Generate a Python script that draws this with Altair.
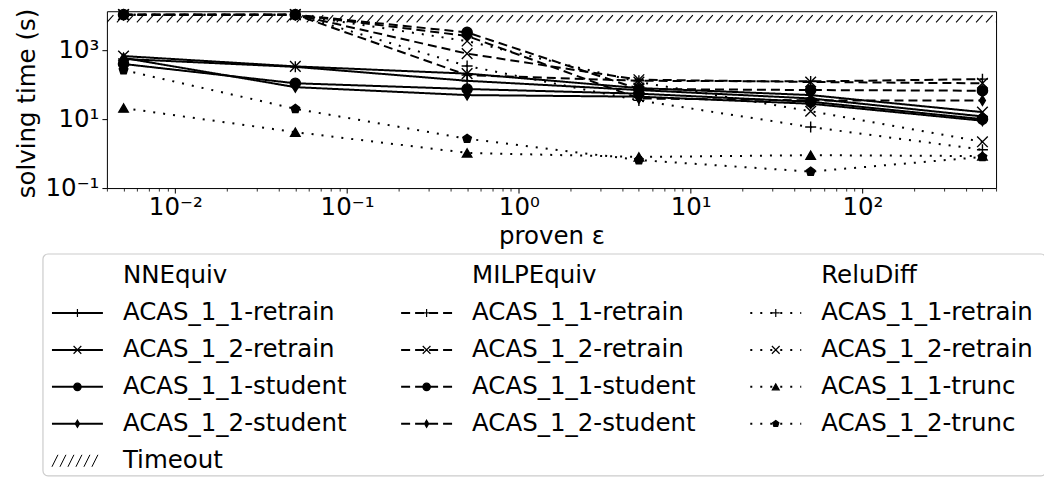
import math
import altair as alt
import numpy as np
import pandas as pd

# ---------------- data ----------------
EPS = [0.005, 0.05, 0.5, 5, 50, 500]
TIMEOUT = 10800

# NNEquiv (solid)
NN_11_RETRAIN = [560, 330, 130, 70, 40, 12]
NN_12_RETRAIN = [680, 340, 210, 80, 50, 16]
NN_11_STUDENT = [400, 110, 75, 55, 32, 10]
NN_12_STUDENT = [600, 85, 50, 45, 28, 9]
# MILPEquiv (dashed)
MILP_11_RETRAIN = [TIMEOUT, TIMEOUT, 190, 130, 125, 145]
MILP_12_RETRAIN = [TIMEOUT, TIMEOUT, 800, 140, 120, 110]
MILP_11_STUDENT = [TIMEOUT, TIMEOUT, 3300, 75, 70, 67]
MILP_12_STUDENT = [TIMEOUT, TIMEOUT, 2600, 40, 35, 35]
# ReluDiff (dotted)
RD_11_RETRAIN = [TIMEOUT, TIMEOUT, 350, 35, 5.9, 1.3]
RD_12_RETRAIN = [TIMEOUT, TIMEOUT, 1850, 120, 17, 2.2]
RD_11_TRUNC = [21, 4.2, 1.05, 0.8, 0.9, 0.85]
RD_12_TRUNC = [265, 20, 2.7, 0.65, 0.3, 0.8]

METHODS = ["NNEquiv", "MILPEquiv", "ReluDiff"]
SERIES = [
    ("NNEquiv", "ACAS_1_1-retrain", "plus", NN_11_RETRAIN),
    ("NNEquiv", "ACAS_1_2-retrain", "cross", NN_12_RETRAIN),
    ("NNEquiv", "ACAS_1_1-student", "dot", NN_11_STUDENT),
    ("NNEquiv", "ACAS_1_2-student", "diamond", NN_12_STUDENT),
    ("MILPEquiv", "ACAS_1_1-retrain", "plus", MILP_11_RETRAIN),
    ("MILPEquiv", "ACAS_1_2-retrain", "cross", MILP_12_RETRAIN),
    ("MILPEquiv", "ACAS_1_1-student", "dot", MILP_11_STUDENT),
    ("MILPEquiv", "ACAS_1_2-student", "diamond", MILP_12_STUDENT),
    ("ReluDiff", "ACAS_1_1-retrain", "plus", RD_11_RETRAIN),
    ("ReluDiff", "ACAS_1_2-retrain", "cross", RD_12_RETRAIN),
    ("ReluDiff", "ACAS_1_1-trunc", "triangle", RD_11_TRUNC),
    ("ReluDiff", "ACAS_1_2-trunc", "pentagon", RD_12_TRUNC),
]

# ---------------- styles ----------------
FONT = "DejaVu Sans"
FS = 24.5
X_MIN, X_MAX = 0.004, 600
Y_MIN, Y_MAX = 0.1, 13600
HATCH_LOW, HATCH_HIGH = 6500, 10400
MAIN_W, MAIN_H = 890, 177
LEG_W, LEG_H = 938, 224
VIEW_LEFT = 107          # expected page x of the plot's left edge (legend is laid out from it)

DASHES = [[1, 0], [9, 5], [2, 8]]
MARKERS = ["plus", "cross", "dot", "diamond", "triangle", "pentagon"]
pent = "M" + "L".join(
    f"{math.cos(math.radians(-90 + 72 * k)):.3f},{math.sin(math.radians(-90 + 72 * k)):.3f}"
    for k in range(5)) + "Z"
SHAPES = ["M-1,0L1,0M0,-1L0,1", "M-1,-1L1,1M-1,1L1,-1", "circle",
          "M0,-1L0.6,0L0,1L-0.6,0Z", "triangle-up", pent]
PLOT_SIZES = [121, 81, 16, 144, 100, 90]
LEG_SIZES = [64, 42, 8, 110, 56, 56]

rows = []
for method, name, marker, vals in SERIES:
    for e, v in zip(EPS, vals):
        rows.append(dict(method=method, series=method + " " + name, marker=marker, eps=e, time=v))
df = pd.DataFrame(rows)


def pow10_expr():
    sup = {-3: "⁻³", -2: "⁻²", -1: "⁻¹", 0: "⁰", 1: "¹", 2: "²", 3: "³", 4: "⁴"}
    e = "round(log(datum.value)/LN10)"
    expr = "''"
    for k, s in sup.items():
        expr = f"({e} == {k} ? '{s}' : {expr})"
    return "'10' + " + expr


LBL = pow10_expr()
xscale = alt.Scale(type="log", domain=[X_MIN, X_MAX], nice=False)
yscale = alt.Scale(type="log", domain=[Y_MIN, Y_MAX], nice=False)

y_axis = alt.Axis(values=[0.1, 10, 1000], labelExpr=LBL, tickSize=5, tickColor="black",
                  tickWidth=1, labelColor="black", labelFontSize=FS, labelFont=FONT,
                  labelPadding=3, title="solving time (s)", titleFontSize=FS, titleFont=FONT,
                  titleFontWeight="normal", titleColor="black", titlePadding=6,
                  titleAnchor="end", titleY=-3, domain=False, grid=False)
x_major = alt.Axis(values=[0.01, 0.1, 1, 10, 100], labelExpr=LBL, tickSize=5, tickColor="black",
                   tickWidth=1, labelColor="black", labelFontSize=FS, labelFont=FONT,
                   labelPadding=2, title="proven ε", titleFontSize=FS, titleFont=FONT,
                   titleFontWeight="normal", titleColor="black", titlePadding=6,
                   domain=False, grid=False, orient="bottom")
minor_vals = [k * 10.0 ** p for p in range(-3, 3) for k in range(2, 10)
              if X_MIN <= k * 10.0 ** p <= X_MAX]
x_minor = alt.Axis(values=minor_vals, labels=False, tickSize=3, tickColor="black", tickWidth=0.8,
                   title=None, domain=False, grid=False, orient="bottom")

# hatch for timeout band (log-space diagonal strokes)
dec_px = MAIN_W / math.log10(X_MAX / X_MIN)
step = 10 / dec_px
dx = 6.5 / dec_px
starts = np.arange(math.log10(X_MIN) - 2 * step, math.log10(X_MAX) + step, step)
hatch_df = pd.DataFrame({"x0": 10 ** starts, "x1": 10 ** (starts + dx),
                         "y0": HATCH_LOW, "y1": HATCH_HIGH})

hatch = alt.Chart(hatch_df).mark_rule(color="black", strokeWidth=1.1, clip=True).encode(
    x=alt.X("x0:Q", scale=xscale, axis=x_minor),
    x2="x1:Q",
    y=alt.Y("y0:Q", scale=yscale, axis=y_axis),
    y2="y1:Q",
)
lines = alt.Chart(df).mark_line(color="black", strokeWidth=2, clip=True).encode(
    x=alt.X("eps:Q", scale=xscale, axis=x_major),
    y=alt.Y("time:Q", scale=yscale, axis=y_axis),
    detail="series:N",
    strokeDash=alt.StrokeDash("method:N", scale=alt.Scale(domain=METHODS, range=DASHES), legend=None),
)
points = alt.Chart(df).mark_point(filled=True, fill="black", stroke="black", strokeWidth=1.4,
                                  opacity=1).encode(
    x=alt.X("eps:Q", scale=xscale, axis=None),
    y=alt.Y("time:Q", scale=yscale, axis=y_axis),
    shape=alt.Shape("marker:N", scale=alt.Scale(domain=MARKERS, range=SHAPES), legend=None),
    size=alt.Size("marker:O", scale=alt.Scale(domain=MARKERS, range=PLOT_SIZES), legend=None),
)
main = alt.layer(hatch, lines, points).resolve_axis(x="independent").properties(
    width=MAIN_W, height=MAIN_H)

# ---------------- custom legend (coordinates relative to the plot's left edge) ----------------
COL_TEXT_X = [123 - VIEW_LEFT + 349.5 * k for k in range(3)]
ROW_Y = [23 + 37 * r for r in range(6)]
text_rows, sym_rows = [], []
for ci, m in enumerate(METHODS):
    text_rows.append(dict(x=COL_TEXT_X[ci], y=ROW_Y[0], label=m))
    entries = [s for s in SERIES if s[0] == m]
    for ri, (_, name, marker, _) in enumerate(entries):
        tx, ty = COL_TEXT_X[ci], ROW_Y[ri + 1]
        text_rows.append(dict(x=tx, y=ty, label=name))
        sym_rows.append(dict(x0=tx - 71, x1=tx - 20, xm=tx - 45.5, y=ty, method=m, marker=marker))
text_rows.append(dict(x=COL_TEXT_X[0], y=ROW_Y[5], label="Timeout"))
leg_text = pd.DataFrame(text_rows)
leg_sym = pd.DataFrame(sym_rows)
hx = [COL_TEXT_X[0] - 71 + 8 * i for i in range(6)]
leg_hatch = pd.DataFrame({"x0": hx, "x1": [h + 6 for h in hx],
                          "y0": ROW_Y[5] + 6, "y1": ROW_Y[5] - 6})
leg_box = pd.DataFrame({"x0": [43 - VIEW_LEFT], "x1": [LEG_W + 2], "y0": [1], "y1": [LEG_H - 1]})
leg_cover = pd.DataFrame({"x": [LEG_W + 2], "y0": [-1], "y1": [LEG_H + 1]})

lx = alt.Scale(domain=[0, LEG_W], nice=False, zero=False)
ly = alt.Scale(domain=[0, LEG_H], nice=False, zero=False, reverse=True)

box = alt.Chart(leg_box).mark_rect(fill="white", stroke="#cccccc", strokeWidth=1.2,
                                   cornerRadius=5).encode(
    x=alt.X("x0:Q", scale=lx, axis=None), x2="x1:Q",
    y=alt.Y("y0:Q", scale=ly, axis=None), y2="y1:Q")
cover = alt.Chart(leg_cover).mark_rule(color="white", strokeWidth=4).encode(
    x=alt.X("x:Q", scale=lx, axis=None),
    y=alt.Y("y0:Q", scale=ly, axis=None), y2="y1:Q")
leg_lines = alt.Chart(leg_sym).mark_rule(color="black", strokeWidth=2).encode(
    x=alt.X("x0:Q", scale=lx, axis=None), x2="x1:Q",
    y=alt.Y("y:Q", scale=ly, axis=None),
    strokeDash=alt.StrokeDash("method:N", scale=alt.Scale(domain=METHODS, range=DASHES), legend=None))
leg_pts = alt.Chart(leg_sym).mark_point(filled=True, fill="black", stroke="black", strokeWidth=1.2,
                                        opacity=1).encode(
    x=alt.X("xm:Q", scale=lx, axis=None),
    y=alt.Y("y:Q", scale=ly, axis=None),
    shape=alt.Shape("marker:N", scale=alt.Scale(domain=MARKERS, range=SHAPES), legend=None),
    size=alt.Size("marker:O", scale=alt.Scale(domain=MARKERS, range=LEG_SIZES), legend=None))
leg_h = alt.Chart(leg_hatch).mark_rule(color="black", strokeWidth=1).encode(
    x=alt.X("x0:Q", scale=lx, axis=None), x2="x1:Q",
    y=alt.Y("y0:Q", scale=ly, axis=None), y2="y1:Q")
leg_t = alt.Chart(leg_text).mark_text(align="left", baseline="middle", font=FONT, fontSize=FS,
                                      color="black").encode(
    x=alt.X("x:Q", scale=lx, axis=None),
    y=alt.Y("y:Q", scale=ly, axis=None),
    text="label:N")
legend = alt.layer(box, cover, leg_lines, leg_pts, leg_h, leg_t).properties(
    width=LEG_W, height=LEG_H, view=alt.ViewBackground(stroke="transparent"))

chart = alt.vconcat(main, legend, spacing=0).resolve_scale(
    x="independent", y="independent", shape="independent", size="independent",
    strokeDash="independent").properties(
    padding={"left": 5, "top": -3, "right": 0, "bottom": 0}).configure(font=FONT).configure_view(
    stroke="black", strokeWidth=1)

chart.save("out.html", embed_options={"renderer": "svg", "actions": False})
